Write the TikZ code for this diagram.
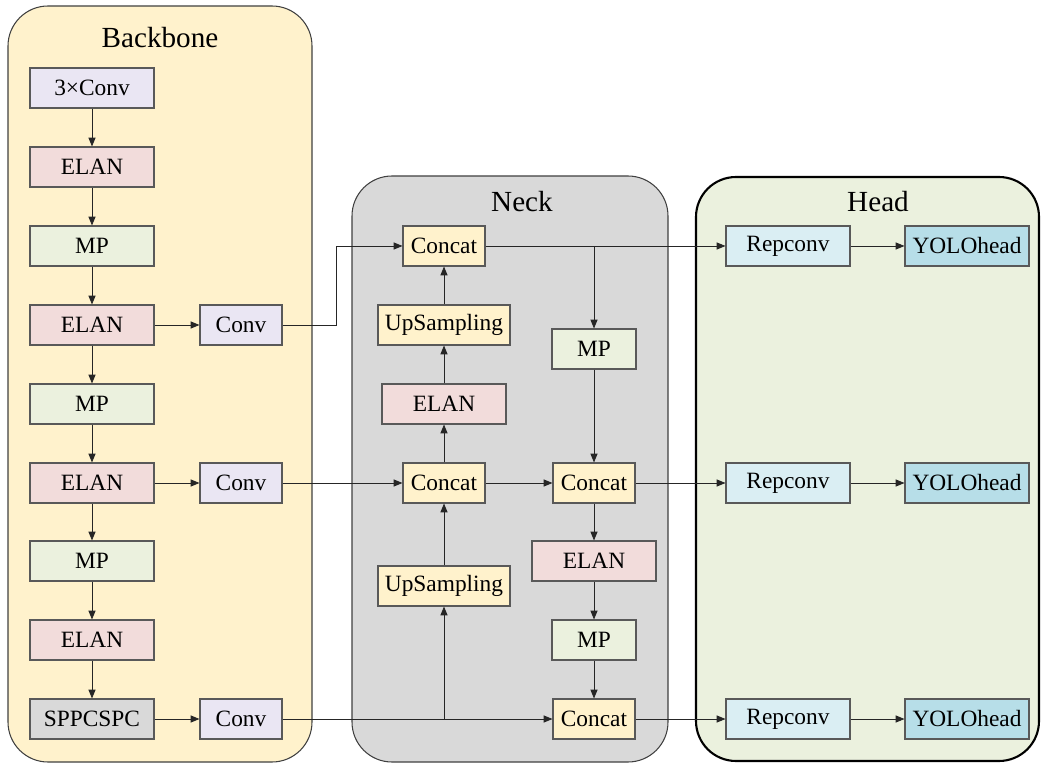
\documentclass[tikz,border=0pt]{standalone}
\usepackage{fontspec}
\setmainfont{Liberation Serif}
\usetikzlibrary{arrows.meta, positioning}

\definecolor{bbfill}{HTML}{FFF2CC}
\definecolor{neckfill}{HTML}{D9D9D9}
\definecolor{headfill}{HTML}{EBF1DE}
\definecolor{convfill}{HTML}{EAE6F3}
\definecolor{elanfill}{HTML}{F2DCDB}
\definecolor{mpfill}{HTML}{EBF1DE}
\definecolor{catfill}{HTML}{FFF2CC}
\definecolor{sppfill}{HTML}{D9D9D9}
\definecolor{repfill}{HTML}{DAEEF3}
\definecolor{yolofill}{HTML}{B7DEE8}
\definecolor{boxline}{HTML}{595959}

\begin{document}
\begin{tikzpicture}[x=0.02cm, y=-0.02cm,
    every node/.style={font=\fontsize{13.3}{16}\selectfont},
    blk/.style={draw=boxline, line width=0.6pt, minimum height=0.8cm, inner sep=0pt},
    convbox/.style={blk, fill=convfill, minimum width=1.64cm},
    wideconv/.style={blk, fill=convfill, minimum width=2.48cm},
    elanbox/.style={blk, fill=elanfill, minimum width=2.48cm},
    mpbox/.style={blk, fill=mpfill, minimum width=2.48cm},
    smallmp/.style={blk, fill=mpfill, minimum width=1.68cm},
    catbox/.style={blk, fill=catfill, minimum width=1.64cm},
    upbox/.style={blk, fill=catfill, minimum width=2.64cm},
    sppbox/.style={blk, fill=sppfill, minimum width=2.48cm},
    repbox/.style={blk, fill=repfill, minimum width=2.48cm},
    yolobox/.style={blk, fill=yolofill, minimum width=2.48cm},
    panel/.style={rounded corners=0.8cm, draw=black!75, line width=0.6pt},
    title/.style={font=\fontsize{16.6}{20}\selectfont},
    arr/.style={-{Triangle[length=5pt,width=4pt]}, line width=0.5pt, draw=black!85}]
  \useasboundingbox (0,0) rectangle (1041,766);

  % panels
  \draw[panel, fill=bbfill] (8,6) rectangle (312,762);
  \draw[panel, fill=neckfill] (352,176) rectangle (668,762);
  \draw[panel, fill=headfill, draw=black, line width=1.2pt] (696,177) rectangle (1039,761);
  \node[title] (tb) at (160,38) {Backbone};
  \node[title] (tn) at (522,202) {Neck};
  \node[title] (th) at (878,202) {Head};

  % backbone
  \foreach \n/\y/\t/\s in {b1/88/3×Conv/wideconv, b2/167/ELAN/elanbox, b3/246/MP/mpbox,
      b4/325/ELAN/elanbox, b5/404/MP/mpbox, b6/483/ELAN/elanbox, b7/561/MP/mpbox,
      b8/640/ELAN/elanbox, b9/719/SPPCSPC/sppbox}
    \node[\s] (\n) at (92,\y) {\t};
  \foreach \a/\b in {b1/b2, b2/b3, b3/b4, b4/b5, b5/b6, b6/b7, b7/b8, b8/b9}
    \draw[arr] (\a) -- (\b);
  \node[convbox] (c1) at (241,325) {Conv};
  \node[convbox] (c2) at (241,483) {Conv};
  \node[convbox] (c3) at (241,719) {Conv};
  \draw[arr] (b4) -- (c1);
  \draw[arr] (b6) -- (c2);
  \draw[arr] (b9) -- (c3);

  % neck
  \node[catbox] (n1) at (444,246) {Concat};
  \node[upbox] (u1) at (444,325) {UpSampling};
  \node[elanbox] (e1) at (444,404) {ELAN};
  \node[catbox] (n2) at (444,483) {Concat};
  \node[upbox] (u2) at (444,586) {UpSampling};
  \node[smallmp] (m1) at (594,349) {MP};
  \node[catbox] (n3) at (594,483) {Concat};
  \node[elanbox] (e2) at (594,561) {ELAN};
  \node[smallmp] (m2) at (594,640) {MP};
  \node[catbox] (n4) at (594,719) {Concat};

  \draw[arr] (c1.east) -- (336,325) |- (n1.west);
  \draw[arr] (c2) -- (n2);
  \draw[arr] (c3) -- (n4);
  \coordinate (j1) at (u2.south |- c3.east);
  \draw[arr] (j1) -- (u2.south);
  \draw[arr] (u2) -- (n2);
  \draw[arr] (n2) -- (e1);
  \draw[arr] (e1) -- (u1);
  \draw[arr] (u1) -- (n1);
  \draw[arr] (n2) -- (n3);
  \coordinate (j2) at (m1.north |- n1.east);
  \draw[arr] (j2) -- (m1.north);
  \draw[arr] (m1) -- (n3);
  \draw[arr] (n3) -- (e2);
  \draw[arr] (e2) -- (m2);
  \draw[arr] (m2) -- (n4);

  % head
  \foreach \i/\y/\s in {1/246/n1, 2/483/n3, 3/719/n4} {
    \node[repbox] (r\i) at (788,\y) {Repconv};
    \node[yolobox] (h\i) at (967,\y) {YOLOhead};
    \draw[arr] (\s) -- (r\i);
    \draw[arr] (r\i) -- (h\i);
  }
\end{tikzpicture}
\end{document}
